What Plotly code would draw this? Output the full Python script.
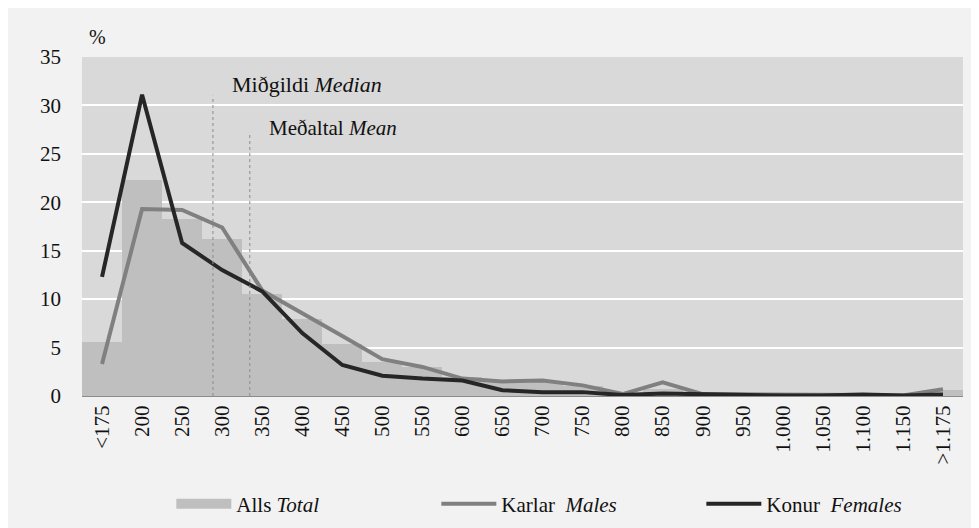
import plotly.graph_objects as go

categories = ["<175", "200", "250", "300", "350", "400", "450", "500", "550", "600",
              "650", "700", "750", "800", "850", "900", "950", "1.000", "1.050",
              "1.100", "1.150", ">1.175"]
total = [5.6, 22.3, 18.3, 16.2, 10.5, 8.0, 5.4, 3.5, 3.0, 2.0, 1.5, 1.4, 1.0,
         0.3, 0.7, 0.3, 0.3, 0.2, 0.15, 0.2, 0.1, 0.6]
males = [3.3, 19.3, 19.2, 17.4, 10.9, 8.6, 6.2, 3.8, 3.0, 1.8, 1.5, 1.6, 1.1,
         0.2, 1.4, 0.2, 0.2, 0.15, 0.1, 0.1, 0.05, 0.7]
females = [12.3, 31.1, 15.8, 13.0, 10.8, 6.5, 3.2, 2.1, 1.8, 1.6, 0.6, 0.4, 0.4,
           0.1, 0.25, 0.15, 0.05, 0.05, 0.05, 0.15, 0.05, 0.15]
median_pos, median_top = 2.77, 31.0
mean_pos, mean_top = 3.69, 27.1

font = "Liberation Serif"
txt = "#111111"

fig = go.Figure()
fig.add_trace(go.Bar(x=categories, y=total, name="Alls <i>Total</i>", showlegend=False,
                     marker_color="#bfbfbf", marker_line_width=0))
# legend entry for the bars (wide swatch like the original)
fig.add_trace(go.Scatter(x=[None], y=[None], name="Alls <i>Total</i>", mode="lines",
                         line=dict(color="#bfbfbf", width=10)))
fig.add_trace(go.Scatter(x=categories, y=males, name="Karlar\u00a0 <i>Males</i>",
                         mode="lines", line=dict(color="#808080", width=4)))
fig.add_trace(go.Scatter(x=categories, y=females, name="Konur\u00a0 <i>Females</i>",
                         mode="lines", line=dict(color="#262626", width=4)))

# median / mean markers
for pos, top in [(median_pos, median_top), (mean_pos, mean_top)]:
    fig.add_shape(type="line", xref="x", yref="y", x0=pos, x1=pos, y0=0, y1=top,
                  line=dict(color="#8c8c8c", width=1, dash="dot"))

fig.add_annotation(x=median_pos + 0.43, y=32.2, xref="x", yref="y",
                   text="Miðgildi <i>Median</i>", showarrow=False, xanchor="left",
                   font=dict(family=font, size=22, color=txt))
fig.add_annotation(x=mean_pos + 0.42, y=27.7, xref="x", yref="y",
                   text="Meðaltal <i>Mean</i>", showarrow=False, xanchor="left",
                   font=dict(family=font, size=21, color=txt))
fig.add_annotation(x=0.006, y=1.058, xref="paper", yref="paper", text="%",
                   xanchor="left", yanchor="middle", showarrow=False,
                   font=dict(family=font, size=20, color=txt))

fig.update_layout(
    width=979, height=528,
    margin=dict(l=74, r=24, t=49, b=139),
    paper_bgcolor="#f2f2f2", plot_bgcolor="#d9d9d9",
    bargap=0,
    font=dict(family=font, size=21, color=txt),
    showlegend=True,
    legend=dict(orientation="h", x=0.1014, xanchor="left", y=-0.255, yanchor="top",
                entrywidth=195, itemwidth=55, bgcolor="rgba(0,0,0,0)",
                font=dict(family=font, size=21, color=txt)),
)
fig.update_xaxes(type="category", tickangle=-90, showgrid=False, zeroline=False,
                 showline=True, linecolor="#8c8c8c", linewidth=1,
                 range=[-0.5, len(categories) - 0.5], ticks="")
fig.update_yaxes(range=[0, 35], dtick=5, showgrid=True, gridcolor="white",
                 gridwidth=1.5, zeroline=False, ticks="", ticklabelstandoff=20)

fig.write_html("out.html")
